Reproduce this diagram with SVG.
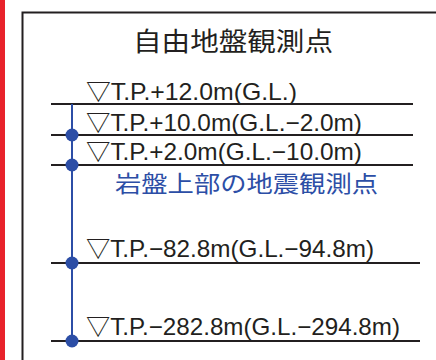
<svg xmlns="http://www.w3.org/2000/svg" width="436" height="360" viewBox="0 0 436 360">
<style>
.lbl{font-family:"Liberation Sans","Noto Sans CJK JP",sans-serif;font-size:24px;fill:#231f20}
.lvl{stroke:#231f20;stroke-width:2.2;fill:none}
.dot{fill:#2c4ea6}
</style>
<rect width="436" height="360" fill="#ffffff"/>
<rect x="0" y="0" width="5" height="360" fill="#e8222b"/>
<path d="M22.5,360 V12.5 H436" fill="none" stroke="#231f20" stroke-width="2"/>
<g id="title"><text x="133" y="51" font-family="Noto Sans CJK JP,sans-serif" font-size="26" fill="#231f20" textLength="200" lengthAdjust="spacingAndGlyphs">自由地盤観測点</text></g>
<g id="connectors">
<line class="lvl" x1="51" y1="104" x2="413" y2="104"/>
<line class="lvl" x1="51" y1="135" x2="413" y2="135"/>
<line class="lvl" x1="51" y1="165" x2="413" y2="165"/>
<line class="lvl" x1="51" y1="263" x2="420" y2="263"/>
<line class="lvl" x1="51" y1="341" x2="420" y2="341"/>
<line x1="72" y1="104" x2="72" y2="341" stroke="#2c4ea6" stroke-width="2"/>
</g>
<g id="lv1"><text class="lbl" x="86" y="99.5" textLength="211" lengthAdjust="spacingAndGlyphs">▽T.P.+12.0m(G.L.)</text></g>
<g id="lv2"><circle class="dot" cx="72" cy="135" r="6.5"/><text class="lbl" x="86" y="130.5" textLength="276" lengthAdjust="spacingAndGlyphs">▽T.P.+10.0m(G.L.−2.0m)</text></g>
<g id="lv3"><circle class="dot" cx="72" cy="165" r="6.5"/><text class="lbl" x="86" y="159.5" textLength="276" lengthAdjust="spacingAndGlyphs">▽T.P.+2.0m(G.L.−10.0m)</text></g>
<g id="bedrock"><text x="115" y="191.5" font-family="Noto Sans CJK JP,sans-serif" font-size="23" fill="#2c4ea6" textLength="263" lengthAdjust="spacingAndGlyphs">岩盤上部の地震観測点</text></g>
<g id="lv4"><circle class="dot" cx="72" cy="263" r="6.5"/><text class="lbl" x="86" y="257" textLength="288" lengthAdjust="spacingAndGlyphs">▽T.P.−82.8m(G.L.−94.8m)</text></g>
<g id="lv5"><circle class="dot" cx="72" cy="341" r="6.5"/><text class="lbl" x="86" y="334.5" textLength="314" lengthAdjust="spacingAndGlyphs">▽T.P.−282.8m(G.L.−294.8m)</text></g>
</svg>
